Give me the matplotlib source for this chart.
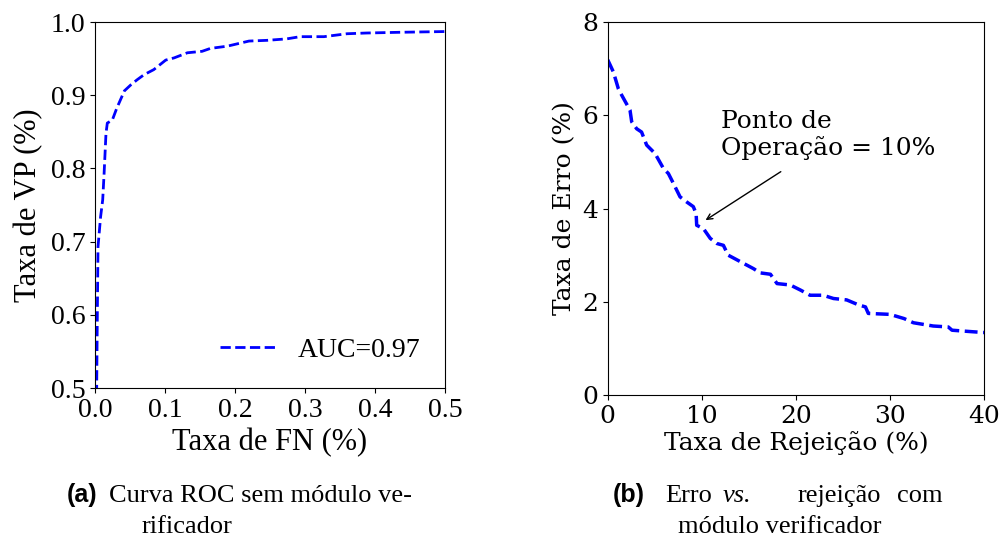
import numpy as np
import matplotlib
matplotlib.use("Agg")
import matplotlib.pyplot as plt

# ROC curve without verifier module (left)
fn_rate = [0.0015, 0.0024, 0.0033, 0.0043, 0.008, 0.011, 0.013, 0.0157, 0.0176,
           0.0247, 0.031, 0.042, 0.051, 0.060, 0.070, 0.084, 0.101, 0.113,
           0.132, 0.153, 0.165, 0.189, 0.220, 0.246, 0.274, 0.293, 0.327,
           0.360, 0.388, 0.436, 0.5]
vp_rate = [0.45, 0.50, 0.597, 0.693, 0.734, 0.757, 0.793, 0.848, 0.862,
           0.866, 0.882, 0.906, 0.914, 0.921, 0.928, 0.935, 0.948, 0.951,
           0.958, 0.960, 0.964, 0.967, 0.974, 0.975, 0.977, 0.980, 0.980,
           0.984, 0.985, 0.986, 0.987]
auc_label = "AUC=0.97"

# error vs rejection with verifier module (right)
rejection = [0, 0.6, 1.13, 1.49, 2.37, 2.55, 3.08, 3.6, 4.14, 5.03, 5.92, 6.45,
             6.98, 7.69, 8.4, 9.1, 9.4, 9.46, 10.17, 10.9, 11.6, 12.3, 12.8,
             14.1, 15.5, 16.2, 17.3, 18.0, 19.4, 20.5, 21.5, 22.9, 24.0, 25.4,
             26.7, 27.4, 27.7, 30.0, 31.5, 32.5, 34.6, 36.2, 36.6, 38.6, 40]
error = [7.19, 6.93, 6.57, 6.43, 6.11, 5.86, 5.71, 5.64, 5.36, 5.18, 4.86, 4.75,
         4.54, 4.25, 4.14, 4.04, 3.89, 3.64, 3.57, 3.36, 3.25, 3.21, 3.0,
         2.86, 2.71, 2.62, 2.59, 2.39, 2.36, 2.25, 2.14, 2.14, 2.07, 2.04,
         1.93, 1.89, 1.75, 1.73, 1.64, 1.55, 1.48, 1.46, 1.39, 1.36, 1.34]
op_point = (10.4, 3.75)
arrow_tail = (18.4, 4.79)
op_text_pos = (12.0, 6.12)

fig = plt.figure(figsize=(10, 5.36), dpi=100)

# left panel
serif_a = "Liberation Serif"
ax1 = fig.add_axes([0.095, 0.2761, 0.35, 0.6828])
ax1.plot(fn_rate, vp_rate, "--", color="blue", lw=2, label=auc_label)
ax1.set_xlim(0, 0.5)
ax1.set_ylim(0.5, 1.0)
ax1.set_xticks([0, 0.1, 0.2, 0.3, 0.4, 0.5])
ax1.set_yticks([0.5, 0.6, 0.7, 0.8, 0.9, 1.0])
for lab in ax1.get_xticklabels() + ax1.get_yticklabels():
    lab.set_fontfamily(serif_a)
    lab.set_fontsize(20)
ax1.set_xlabel("Taxa de FN (%)", fontfamily=serif_a, fontsize=22, labelpad=4)
ax1.set_ylabel("Taxa de VP (%)", fontfamily=serif_a, fontsize=22, labelpad=5)
ax1.legend(loc="lower right", frameon=False, prop={"family": serif_a, "size": 20})

# right panel
serif_b = "DejaVu Serif"
fs_b = 18
ax2 = fig.add_axes([0.6077, 0.263, 0.3763, 0.696])
ax2.plot(rejection, error, "--", color="blue", lw=2.5)
ax2.set_xlim(0, 40)
ax2.set_ylim(0, 8)
ax2.set_xticks([0, 10, 20, 30, 40])
ax2.set_yticks([0, 2, 4, 6, 8])
for lab in ax2.get_xticklabels() + ax2.get_yticklabels():
    lab.set_fontfamily(serif_b)
    lab.set_fontsize(fs_b)
ax2.set_xlabel("Taxa de Rejeição (%)", fontfamily=serif_b, fontsize=fs_b, labelpad=2)
ax2.set_ylabel("Taxa de Erro (%)", fontfamily=serif_b, fontsize=fs_b)
ax2.annotate("", xy=op_point, xytext=arrow_tail,
             arrowprops=dict(arrowstyle="->", color="black", lw=1,
                             shrinkA=0, shrinkB=0))
ax2.text(op_text_pos[0], op_text_pos[1], "Ponto de\nOperação = 10%",
         ha="left", va="top", fontfamily=serif_b, fontsize=fs_b)

# captions
cap = "Liberation Serif"
fs_c = 19
lab_font = dict(fontfamily="Liberation Sans", fontweight="bold", fontsize=18)
y1 = 1 - 502 / 536
y2 = 1 - 533 / 536
fig.text(67 / 1000, y1, "(a)", va="baseline", **lab_font)
fig.text(109 / 1000, y1, "Curva ROC sem módulo ve-", va="baseline",
         fontfamily=cap, fontsize=fs_c)
fig.text(142 / 1000, y2, "rificador", va="baseline", fontfamily=cap, fontsize=fs_c)

fig.text(613 / 1000, y1, "(b)", va="baseline", **lab_font)
fig.text(665 / 1000, y1, "Erro", va="baseline", fontfamily=cap, fontsize=fs_c)
fig.text(723 / 1000, y1, "vs.", va="baseline", fontfamily=cap, fontsize=fs_c,
         style="italic")
fig.text(798 / 1000, y1, "rejeição", va="baseline", fontfamily=cap, fontsize=fs_c)
fig.text(943 / 1000, y1, "com", va="baseline", ha="right", fontfamily=cap,
         fontsize=fs_c)
fig.text(780 / 1000, y2, "módulo verificador", va="baseline", ha="center",
         fontfamily=cap, fontsize=fs_c)

fig.savefig("out.png", dpi=100)
